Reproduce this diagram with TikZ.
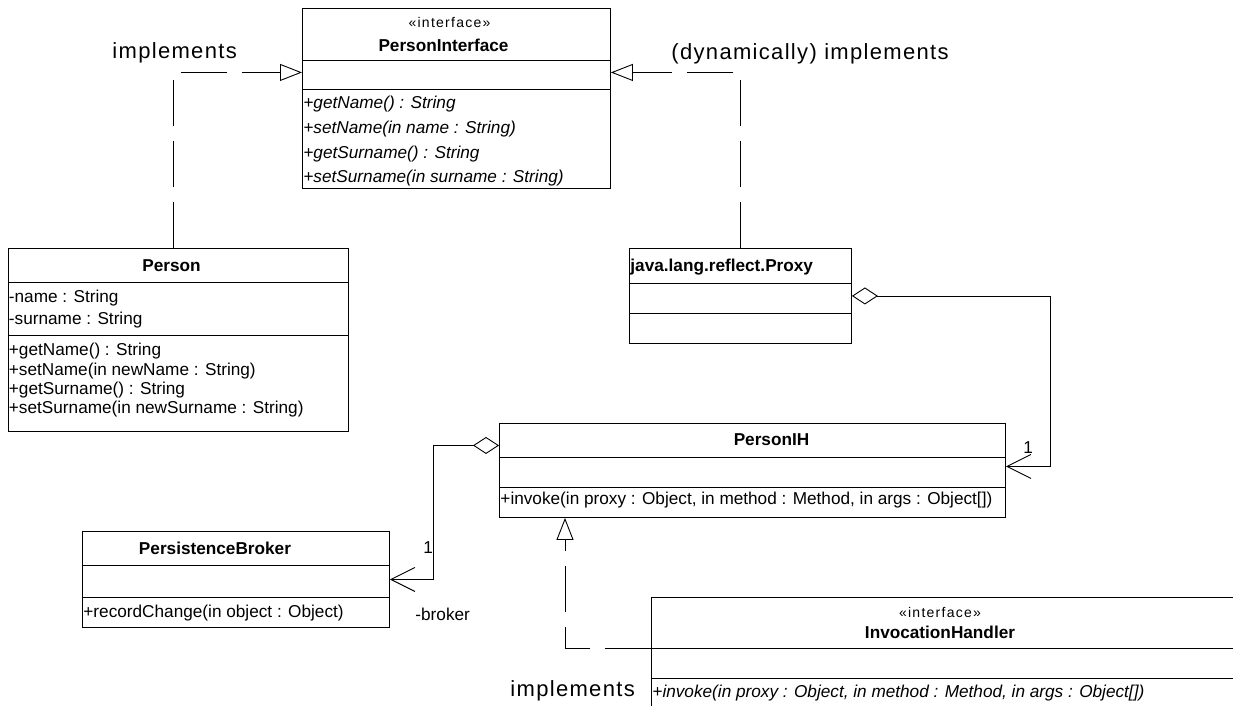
\documentclass[tikz,border=0pt]{standalone}
\usepackage{fontspec}
\setmainfont{Liberation Sans}
\usetikzlibrary{arrows.meta,calc}
\newcommand\clsfont{\fontsize{17.2}{20}\selectfont}
\newcommand\lblfont{\fontsize{22}{26}\selectfont\addfontfeature{LetterSpace=6}}
\newcommand\stfont{\fontsize{14}{16}\selectfont\addfontfeature{LetterSpace=9}}
\begin{document}
\begin{tikzpicture}[x=1pt,y=-1pt,line width=0.9pt,line join=miter,
  box/.style={draw,rectangle,inner sep=0pt,anchor=north west},
  ttl/.style={inner sep=0pt,font=\clsfont\bfseries,anchor=base},
  itl/.style={inner sep=0pt,font=\clsfont\itshape,anchor=base west},
  mem/.style={inner sep=0pt,font=\clsfont,anchor=base west},
  ster/.style={inner sep=0pt,font=\stfont,anchor=base},
  lbl/.style={inner sep=0pt,font=\lblfont,anchor=base west},
  implink/.style={dash pattern=on 46pt off 15pt,-{Triangle[open,length=22pt,width=17pt]}},
  agglink/.style={{Diamond[open,length=26pt,width=17pt]}-{Straight Barb[length=24pt,width=24pt]}}]
\fill[white] (0,0) rectangle (1233,706);
\clip (0,0) rectangle (1233,706);

% PersonInterface
\node[box,minimum width=308pt,minimum height=180pt] (pi) at (302,8) {};
\draw (pi.north west) ++(0,52) -- ++(308,0);
\draw (pi.north west) ++(0,81) -- ++(308,0);
\node[ster] (pist) at (449.5,28) {«interface»};
\node[ttl] (pin) at (443.5,51.5) {PersonInterface};
\node[itl] (pim1) at (303,109) {+getName() : String};
\node[itl] (pim2) at (303,133) {+setName(in name : String)};
\node[itl] (pim3) at (303,158) {+getSurname() : String};
\node[itl] (pim4) at (303,182) {+setSurname(in surname : String)};

% Person
\node[box,minimum width=340pt,minimum height=183pt] (person) at (8,248) {};
\draw (person.north west) ++(0,34) -- ++(340,0);
\draw (person.north west) ++(0,87) -- ++(340,0);
\node[ttl] (pn) at (171.5,271) {Person};
\node[mem] (pa1) at (8.5,302) {-name : String};
\node[mem] (pa2) at (8.5,324) {-surname : String};
\node[mem] (pm1) at (8.5,355.5) {+getName() : String};
\node[mem] (pm2) at (8.5,375) {+setName(in newName : String)};
\node[mem] (pm3) at (8.5,394) {+getSurname() : String};
\node[mem] (pm4) at (8.5,413) {+setSurname(in newSurname : String)};

% Proxy
\node[box,minimum width=222pt,minimum height=95pt] (proxy) at (629,248) {};
\draw (proxy.north west) ++(0,35) -- ++(222,0);
\draw (proxy.north west) ++(0,65) -- ++(222,0);
\node[ttl,anchor=base west] (pxn) at (630,271) {java.lang.reflect.Proxy};

% PersonIH
\node[box,minimum width=506pt,minimum height=94pt] (pih) at (499,423) {};
\draw (pih.north west) ++(0,34) -- ++(506,0);
\draw (pih.north west) ++(0,64) -- ++(506,0);
\node[ttl] (pihn) at (771.5,445) {PersonIH};
\node[mem] (pihm) at (500,504) {+invoke(in proxy : Object, in method : Method, in args : Object[])};

% PersistenceBroker
\node[box,minimum width=307pt,minimum height=96pt] (broker) at (82,531) {};
\draw (broker.north west) ++(0,34) -- ++(307,0);
\draw (broker.north west) ++(0,66) -- ++(307,0);
\node[ttl] (bn) at (215,554) {PersistenceBroker};
\node[mem] (bm) at (83,617.5) {+recordChange(in object : Object)};

% InvocationHandler
\node[box,minimum width=700pt,minimum height=200pt] (ih) at (651,597) {};
\draw (ih.north west) ++(0,51) -- ++(700,0);
\draw (ih.north west) ++(0,81) -- ++(700,0);
\node[ster] (ihst) at (940,617) {«interface»};
\node[ttl] (ihn) at (940,638) {InvocationHandler};
\node[itl] (ihm) at (652,697) {+invoke(in proxy : Object, in method : Method, in args : Object[])};

% connectors
\draw[implink] ([xshift=-5pt]person.north) |- ([yshift=26pt]pi.west);
\draw[implink] (proxy.north) |- ([yshift=26pt]pi.east);
\draw[agglink] (proxy.east) -| ($(pih.east)+(45,-4)$) -- ([yshift=4pt]pih.east);
\draw[agglink] ([yshift=25pt]pih.west) -| ($(broker.east)+(44,0)$) -- (broker.east);
\draw[implink] ($(ih.north west)+(0,51)$) -| ($(pih.south west)+(66,0)$);

% labels
\node[lbl] (l1) at (112,59) {implements};
\node[lbl] (l2) at (671,60) {(dynamically) implements};
\node[lbl] (l3) at (510,696) {implements};
\node[mem] (m1) at (1023,453) {1};
\node[mem] (m2) at (423,553) {1};
\node[mem] (m3) at (415,620) {-broker};
\end{tikzpicture}
\end{document}
